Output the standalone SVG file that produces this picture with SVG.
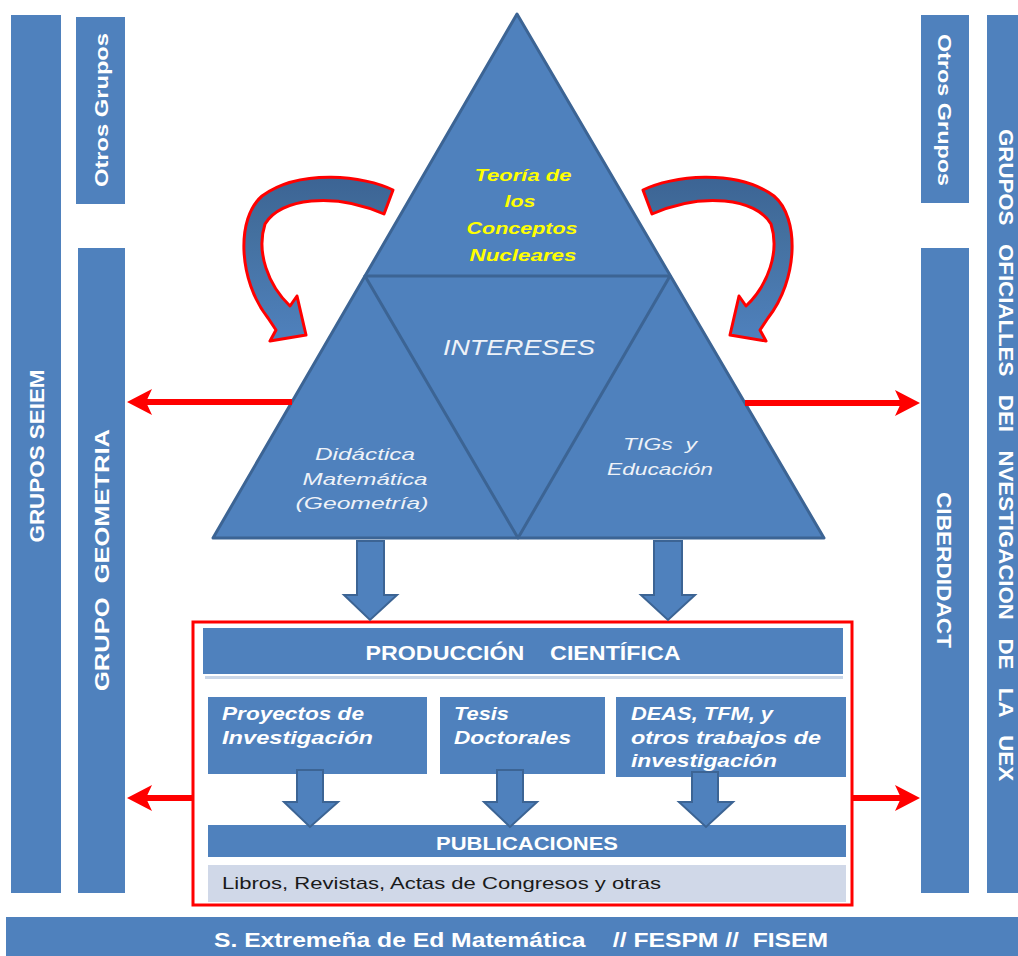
<svg xmlns="http://www.w3.org/2000/svg" width="1018" height="956" viewBox="0 0 1018 956">
<defs>
<style>
.bar{fill:#4f81bd}
.vt{font-family:"Liberation Sans",Arial,sans-serif;font-weight:bold;fill:#ffffff;text-anchor:middle;dominant-baseline:central}
.blk{fill:#4f81bd;stroke:#3c6494;stroke-width:2}
.red{stroke:#ff0000;stroke-width:6;fill:none}
.redh{fill:#ff0000}
.lbl{font-family:"Liberation Sans",Arial,sans-serif;font-weight:bold;font-style:italic;fill:#ffffff;font-size:18px}
.hdr{font-family:"Liberation Sans",Arial,sans-serif;font-weight:bold;fill:#ffffff;text-anchor:middle}
.tri{font-family:"Liberation Sans",Arial,sans-serif;font-style:italic;fill:#eef2f8;text-anchor:middle}
</style>
<linearGradient id="cg" x1="0" y1="0" x2="0" y2="1">
<stop offset="0" stop-color="#3c6494"/>
<stop offset="0.35" stop-color="#44709f"/>
<stop offset="1" stop-color="#4f81bd"/>
</linearGradient>
<path id="curv" d="M 393 190 C 365 176, 300 168, 262 196 C 236 218, 238 280, 268 318 L 276 330 L 270 341 L 306 335 L 297 296 L 290 306 C 268 285, 256 252, 265 224 C 280 198, 334 192, 384 214 Z"/>
</defs>

<g id="grupos-seiem">
<rect class="bar" x="11" y="15" width="50" height="878"/>
<text class="vt" font-size="20" transform="translate(37,456) rotate(-90)" textLength="173" lengthAdjust="spacingAndGlyphs">GRUPOS SEIEM</text>
</g>
<g id="otros-grupos-left">
<rect class="bar" x="76" y="17" width="49" height="187"/>
<text class="vt" font-size="18" transform="translate(102,110) rotate(-90)" textLength="154" lengthAdjust="spacingAndGlyphs">Otros Grupos</text>
</g>
<g id="grupo-geometria">
<rect class="bar" x="78" y="248" width="47" height="645"/>
<text class="vt" font-size="20" transform="translate(102,560) rotate(-90)" textLength="262" lengthAdjust="spacingAndGlyphs" xml:space="preserve">GRUPO  GEOMETRIA</text>
</g>
<g id="otros-grupos-right">
<rect class="bar" x="921" y="15" width="48" height="188"/>
<text class="vt" font-size="18" transform="translate(944,110) rotate(90)" textLength="152" lengthAdjust="spacingAndGlyphs">Otros Grupos</text>
</g>
<g id="ciberdidact">
<rect class="bar" x="921" y="248" width="48" height="645"/>
<text class="vt" font-size="20" transform="translate(944,570) rotate(90)" textLength="156" lengthAdjust="spacingAndGlyphs">CIBERDIDACT</text>
</g>
<g id="grupos-oficiales">
<rect class="bar" x="987" y="15" width="35" height="878"/>
<text class="vt" font-size="20" transform="translate(1006,455) rotate(90)" textLength="652" lengthAdjust="spacingAndGlyphs" xml:space="preserve">GRUPOS   OFICIALLES   DEI   NVESTIGACION   DE   LA   UEX</text>
</g>
<g id="sociedad">
<rect class="bar" x="6" y="917" width="1016" height="40"/>
<text class="hdr" font-size="20" x="521" y="947" textLength="614" lengthAdjust="spacingAndGlyphs" xml:space="preserve">S. Extremeña de Ed Matemática    // FESPM //  FISEM</text>
</g>

<g id="triangulo">
<polygon points="517,14 824,538 213,538" fill="#4f81bd" stroke="#3c6494" stroke-width="3" stroke-linejoin="round"/>
<polygon points="365,276 670,276 518,538" fill="#4f81bd" stroke="#3c6494" stroke-width="3" stroke-linejoin="round"/>
</g>
<g id="teoria">
<g font-family="'Liberation Sans',Arial,sans-serif" font-weight="bold" font-style="italic" font-size="17" fill="#ffff00" text-anchor="middle" lengthAdjust="spacingAndGlyphs">
<text x="523" y="181" textLength="97" lengthAdjust="spacingAndGlyphs">Teoría de</text>
<text x="520" y="207" textLength="31" lengthAdjust="spacingAndGlyphs">los</text>
<text x="522" y="234" textLength="111" lengthAdjust="spacingAndGlyphs">Conceptos</text>
<text x="523" y="261" textLength="107" lengthAdjust="spacingAndGlyphs">Nucleares</text>
</g>
</g>
<g id="intereses">
<text class="tri" x="519" y="355" font-size="22" textLength="152" lengthAdjust="spacingAndGlyphs">INTERESES</text>
</g>
<g id="didactica">
<text class="tri" x="365" y="460" font-size="17" textLength="100" lengthAdjust="spacingAndGlyphs">Didáctica</text>
<text class="tri" x="365" y="485" font-size="17" textLength="125" lengthAdjust="spacingAndGlyphs">Matemática</text>
<text class="tri" x="362" y="509" font-size="17" textLength="133" lengthAdjust="spacingAndGlyphs">(Geometría)</text>
</g>
<g id="tics">
<text class="tri" x="660" y="450" font-size="17" textLength="74" lengthAdjust="spacingAndGlyphs" xml:space="preserve">TIGs  y</text>
<text class="tri" x="660" y="475" font-size="17" textLength="106" lengthAdjust="spacingAndGlyphs">Educación</text>
</g>

<g id="produccion">
<rect x="193" y="622" width="659" height="283" fill="none" stroke="#ff0000" stroke-width="3"/>
<rect x="205" y="676" width="638" height="3" fill="#c9d6e8"/>
<rect class="bar" x="203" y="628" width="640" height="46"/>
<text class="hdr" font-size="20" x="523" y="660" textLength="315" lengthAdjust="spacingAndGlyphs" xml:space="preserve">PRODUCCIÓN    CIENTÍFICA</text>
</g>
<g id="proyectos">
<rect class="bar" x="208" y="697" width="219" height="77"/>
<text class="lbl" x="222" y="720" textLength="142" lengthAdjust="spacingAndGlyphs">Proyectos de</text>
<text class="lbl" x="222" y="744" textLength="151" lengthAdjust="spacingAndGlyphs">Investigación</text>
</g>
<g id="tesis">
<rect class="bar" x="440" y="697" width="165" height="77"/>
<text class="lbl" x="454" y="720" textLength="55" lengthAdjust="spacingAndGlyphs">Tesis</text>
<text class="lbl" x="454" y="744" textLength="117" lengthAdjust="spacingAndGlyphs">Doctorales</text>
</g>
<g id="deas">
<rect class="bar" x="616" y="697" width="230" height="80"/>
<text class="lbl" x="631" y="720" textLength="142" lengthAdjust="spacingAndGlyphs">DEAS, TFM, y</text>
<text class="lbl" x="631" y="744" textLength="190" lengthAdjust="spacingAndGlyphs">otros trabajos de</text>
<text class="lbl" x="631" y="767" textLength="146" lengthAdjust="spacingAndGlyphs">investigación</text>
</g>
<g id="publicaciones">
<rect class="bar" x="208" y="825" width="638" height="32"/>
<text class="hdr" font-size="18" x="527" y="850" textLength="182" lengthAdjust="spacingAndGlyphs">PUBLICACIONES</text>
</g>
<g id="libros">
<rect x="208" y="865" width="638" height="37" fill="#d0d8e8"/>
<text x="222" y="889" font-family="'Liberation Sans',Arial,sans-serif" font-size="17" fill="#1a1a1a" textLength="439" lengthAdjust="spacingAndGlyphs">Libros, Revistas, Actas de Congresos y otras</text>
</g>

<g id="connectors">
<use href="#curv" fill="url(#cg)" stroke="#ff0000" stroke-width="3" stroke-linejoin="round"/>
<use href="#curv" transform="translate(1036,0) scale(-1,1)" fill="url(#cg)" stroke="#ff0000" stroke-width="3" stroke-linejoin="round"/>
<polygon class="blk" points="357,541 384,541 384,595 397,595 370,620 344,595 357,595"/>
<polygon class="blk" points="654,541 682,541 682,595 695,595 668,620 641,595 654,595"/>
<polygon class="blk" points="297,770 323,770 323,802 338,802 310,827 284,802 297,802"/>
<polygon class="blk" points="497,770 523,770 523,802 537,802 510,827 484,802 497,802"/>
<polygon class="blk" points="692,772 718,772 718,802 733,802 706,827 679,802 692,802"/>
<line class="red" x1="292" y1="402" x2="142" y2="402"/>
<polygon class="redh" points="127,402 152,389 146,402 152,415"/>
<line class="red" x1="745" y1="403" x2="905" y2="403"/>
<polygon class="redh" points="920,403 895,390 901,403 895,416"/>
<line class="red" x1="193" y1="798" x2="142" y2="798"/>
<polygon class="redh" points="127,798 152,785 146,798 152,811"/>
<line class="red" x1="852" y1="798" x2="905" y2="798"/>
<polygon class="redh" points="920,798 895,785 901,798 895,811"/>
</g>
</svg>
